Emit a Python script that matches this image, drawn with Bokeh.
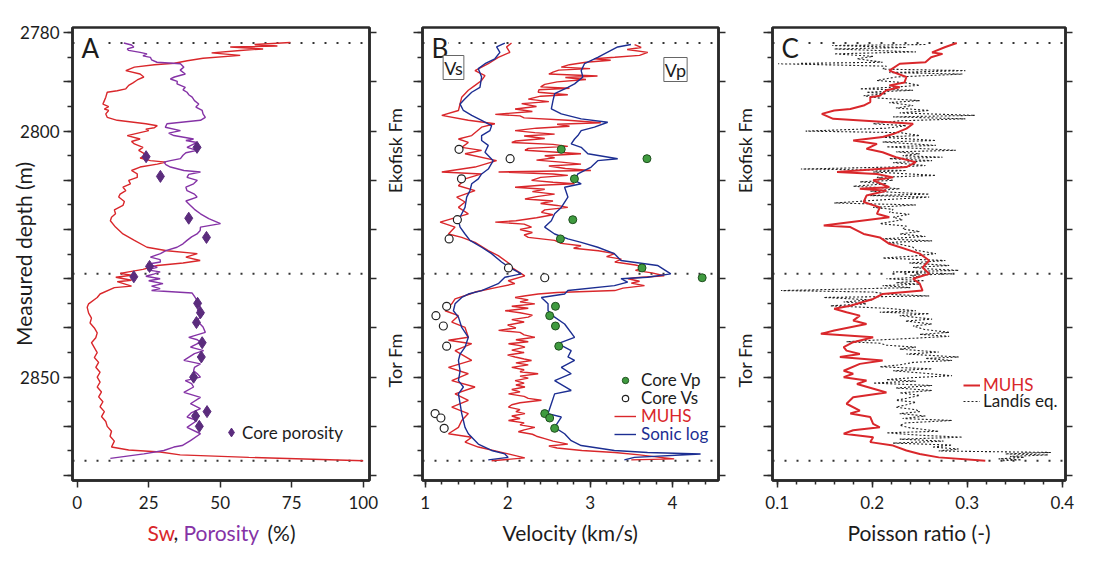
from bokeh.plotting import figure
from bokeh.layouts import row, column
from bokeh.models import (Range1d, FixedTicker, Span, Label, Legend, LegendItem,
                          LinearAxis, CustomJSTickFormatter)
from bokeh.embed import file_html
from bokeh.resources import INLINE

# ---------------- data (depth m, value) ----------------
SW_LOG = [
    (2782.0, 74.5), (2782.4, 62), (2782.7, 70), (2782.9, 53.5), (2783.3, 65), (2783.6, 57), (2784.1, 47),
    (2784.6, 57), (2785.2, 44), (2785.7, 38.5), (2786.2, 34), (2786.5, 27), (2787.0, 20), (2787.7, 17),
    (2788.4, 22), (2789.0, 23.3), (2789.6, 21), (2790.2, 19.5), (2790.7, 18), (2791.4, 17), (2791.8, 14),
    (2792.1, 10.5), (2793.1, 10), (2793.8, 9.5), (2794.5, 9), (2795.0, 11), (2795.5, 9.5), (2795.8, 11),
    (2796.5, 10), (2797.2, 10.5), (2797.8, 14), (2798.5, 24), (2798.9, 28), (2799.3, 27), (2799.6, 24),
    (2799.9, 25), (2800.3, 22), (2800.9, 17.5), (2801.6, 22), (2802.1, 19), (2802.6, 20), (2803.3, 23),
    (2803.9, 21.5), (2804.4, 23), (2804.9, 24), (2805.5, 22), (2806.0, 25.6), (2806.3, 31), (2806.7, 28),
    (2807.3, 22), (2808.0, 19), (2808.7, 21), (2809.4, 21), (2810.0, 18), (2810.7, 18.6), (2811.4, 16),
    (2812.1, 17), (2812.8, 15), (2813.4, 14.5), (2814.3, 16.5), (2815.1, 16), (2816.0, 13), (2816.8, 13.4),
    (2817.5, 12), (2818.2, 11.6), (2819.5, 13.4), (2820.9, 16), (2822.2, 20), (2823.6, 24.4), (2824.3, 31.4),
    (2824.9, 42), (2825.6, 38), (2826.3, 43), (2826.8, 37), (2827.3, 28), (2828.1, 23), (2828.9, 15),
    (2829.3, 19), (2829.7, 13.5), (2830.3, 19), (2830.6, 14), (2831.5, 19), (2831.8, 13), (2833.1, 8),
    (2833.8, 7), (2835.1, 4), (2835.8, 3.5), (2837.0, 4), (2838.0, 5), (2839.0, 4.5), (2840.0, 6),
    (2841.0, 7), (2842.0, 6.5), (2843.0, 5), (2844.0, 6), (2845.0, 7), (2846.0, 6), (2847.0, 7.5),
    (2848.0, 6.5), (2849.0, 8), (2850.0, 7), (2851.0, 8), (2852.0, 7), (2853.0, 8.5), (2854.0, 7.5),
    (2855.0, 9), (2856.0, 8), (2857.0, 9.5), (2858.0, 8.5), (2859.0, 10), (2860.0, 10.5), (2861.0, 12),
    (2862.0, 11.5), (2863.0, 13), (2864.2, 12), (2864.8, 18), (2865.2, 29), (2865.8, 36), (2866.3, 60),
    (2867.0, 100),
]

PORO_LOG = [
    (2782.1, 16.3), (2782.5, 19), (2782.9, 19.8), (2783.3, 17.5), (2783.6, 18), (2784.0, 22), (2784.3, 24.4),
    (2784.7, 23), (2785.0, 25.6), (2785.5, 26), (2786.0, 27.9), (2786.3, 36.1), (2787.0, 37.3), (2787.6, 36),
    (2788.4, 37.8), (2789.0, 34), (2789.4, 32.6), (2789.9, 35), (2790.4, 34.9), (2791.1, 37.8), (2791.6, 37),
    (2792.1, 38.4), (2792.6, 39), (2793.1, 40.2), (2793.8, 41), (2794.5, 42.5), (2795.1, 41.5), (2795.8, 43.7),
    (2796.5, 44), (2797.2, 44.8), (2797.8, 43.1), (2798.5, 31.4), (2799.2, 30.8), (2799.9, 36.1), (2800.4, 32),
    (2800.9, 33.8), (2801.6, 40.7), (2801.9, 38), (2802.3, 41.9), (2803.3, 38.4), (2803.9, 41.9), (2804.4, 38),
    (2804.9, 37), (2805.6, 36.1), (2806.0, 32.6), (2806.3, 30.3), (2806.8, 31), (2807.3, 32.6), (2808.0, 37.3),
    (2808.3, 43.1), (2808.8, 39), (2809.4, 38.4), (2810.0, 42), (2810.7, 40.7), (2811.4, 38), (2812.1, 38.4),
    (2812.8, 41), (2813.4, 41.9), (2814.2, 38), (2815.1, 39.6), (2815.9, 41), (2816.8, 43.1), (2817.8, 46),
    (2818.8, 50.1), (2819.5, 43.1), (2820.2, 43), (2820.9, 41.9), (2821.5, 40), (2822.2, 38.4), (2822.9, 37),
    (2823.6, 34.9), (2824.3, 31), (2824.9, 29.1), (2825.6, 25.6), (2826.1, 29), (2826.6, 29.1), (2827.0, 25),
    (2827.7, 28), (2828.2, 24.5), (2828.6, 29), (2829.0, 27), (2829.5, 24), (2830.0, 29), (2830.4, 25),
    (2831.0, 30), (2831.5, 26), (2832.0, 29), (2832.4, 26), (2832.9, 40.2), (2833.6, 41), (2834.4, 41.9),
    (2835.1, 42), (2835.8, 43.1), (2836.4, 42), (2837.1, 44.2), (2837.8, 43), (2838.5, 41.9), (2839.2, 43),
    (2839.8, 44), (2840.9, 44.8), (2841.9, 39), (2842.4, 42), (2842.9, 43.1), (2843.9, 39.6), (2844.6, 44.2),
    (2845.2, 41), (2846.6, 37.3), (2847.3, 43.1), (2848.0, 41), (2848.7, 40.7), (2849.3, 42), (2850.0, 43.1),
    (2850.7, 37.8), (2851.3, 40), (2852.0, 40.7), (2853.1, 37.3), (2854.1, 43.1), (2855.4, 39.6), (2856.4, 43.1),
    (2857.2, 40), (2858.1, 38.4), (2858.8, 41.9), (2860.2, 38.4), (2861.5, 43.1), (2862.9, 39.6), (2863.9, 36.7),
    (2864.2, 33.8), (2864.9, 30.3), (2865.6, 23.3), (2866.5, 11.6),
]

CORE_PHI_DEPTH = [2803.3, 2805.2, 2809.2, 2817.7, 2821.6, 2827.5, 2829.6, 2835.0,
                  2836.9, 2838.9, 2843.0, 2845.9, 2850.0, 2857.0, 2857.9, 2860.0]
CORE_PHI = [41.9, 24.1, 29.1, 39.0, 45.2, 25.3, 19.8, 42.1,
            43.1, 41.7, 43.7, 43.4, 40.7, 45.4, 41.4, 42.7]

VS_SONIC = [
    (2782.1, 1.966), (2782.9, 1.866), (2784.0, 1.906), (2785.3, 1.845), (2786.3, 1.725), (2787.3, 1.644),
    (2789.0, 1.684), (2791.1, 1.664), (2792.1, 1.564), (2793.4, 1.483), (2794.5, 1.423), (2795.8, 1.463),
    (2796.8, 1.564), (2797.8, 1.684), (2798.9, 1.805), (2799.9, 1.785), (2800.9, 1.684), (2801.9, 1.684),
    (2802.9, 1.765), (2804.3, 1.725), (2806.0, 1.825), (2807.7, 1.765), (2808.7, 1.684), (2809.7, 1.644),
    (2810.7, 1.564), (2812.1, 1.543), (2813.4, 1.503), (2815.5, 1.483), (2816.8, 1.443), (2818.2, 1.403),
    (2819.5, 1.423), (2820.9, 1.483), (2822.2, 1.543), (2823.6, 1.684), (2824.9, 1.805), (2826.6, 1.926),
    (2827.7, 2.020), (2829.0, 2.167), (2829.7, 1.966), (2831.0, 1.886), (2832.4, 1.684), (2833.1, 1.523),
    (2833.8, 1.443), (2835.1, 1.362), (2836.5, 1.342), (2837.8, 1.403), (2839.9, 1.443), (2841.9, 1.523),
    (2843.9, 1.483), (2845.3, 1.423), (2846.6, 1.403), (2848.7, 1.423), (2850.7, 1.403), (2852.0, 1.463),
    (2853.4, 1.403), (2855.4, 1.423), (2857.4, 1.443), (2858.8, 1.463), (2860.2, 1.483), (2861.5, 1.523),
    (2863.6, 1.644), (2864.9, 1.805), (2865.6, 1.966), (2866.3, 2.006), (2866.8, 1.765),
]

VS_MUHS = [
    (2782.1, 2.047), (2782.9, 1.986), (2784.0, 2.027), (2785.0, 1.886), (2786.3, 1.765), (2787.7, 1.604),
    (2788.7, 1.725), (2789.7, 1.684), (2790.7, 1.604), (2791.7, 1.523), (2793.1, 1.443), (2795.8, 1.403),
    (2796.8, 1.201), (2797.8, 1.523), (2798.5, 1.845), (2799.2, 1.684), (2800.9, 1.564), (2801.6, 1.403),
    (2802.3, 1.523), (2803.3, 1.443), (2803.9, 1.684), (2804.6, 1.483), (2806.0, 1.866), (2807.3, 1.604),
    (2808.3, 1.201), (2808.7, 1.684), (2809.7, 1.483), (2811.1, 1.403), (2812.1, 1.604), (2813.4, 1.382),
    (2814.4, 1.483), (2815.5, 1.403), (2816.8, 1.523), (2818.5, 1.181), (2819.5, 1.362), (2820.9, 1.282),
    (2821.6, 1.443), (2822.6, 1.604), (2824.3, 1.765), (2825.3, 1.886), (2827.0, 2.027), (2827.7, 2.047),
    (2829.4, 2.208), (2830.4, 2.006), (2831.0, 2.087), (2831.7, 1.886), (2832.7, 1.604), (2833.1, 1.543),
    (2834.1, 1.362), (2835.1, 1.322), (2836.5, 1.242), (2837.5, 1.403), (2838.8, 1.322), (2839.9, 1.483),
    (2841.9, 1.523), (2842.5, 1.282), (2843.2, 1.564), (2844.6, 1.362), (2846.6, 1.564), (2848.0, 1.282),
    (2849.3, 1.523), (2850.7, 1.322), (2852.0, 1.604), (2853.4, 1.362), (2854.7, 1.523), (2856.1, 1.322),
    (2857.4, 1.523), (2858.8, 1.443), (2860.2, 1.403), (2861.5, 1.282), (2862.2, 1.564), (2863.2, 1.483),
    (2864.2, 1.644), (2865.6, 2.006), (2866.4, 2.208), (2867.0, 1.805),
]

VP_SONIC = [
    (2782.4, 3.496), (2782.9, 3.335), (2783.6, 3.254), (2785.0, 3.093), (2786.3, 2.932), (2787.7, 2.892),
    (2789.0, 2.912), (2790.4, 2.812), (2791.1, 2.731), (2792.4, 2.570), (2793.8, 2.550), (2795.5, 2.530),
    (2796.5, 2.651), (2797.5, 2.892), (2798.2, 3.214), (2799.2, 3.053), (2799.9, 2.892), (2800.9, 2.852),
    (2801.6, 2.812), (2802.6, 2.771), (2803.3, 2.892), (2804.6, 2.973), (2805.6, 3.335), (2806.0, 3.093),
    (2807.3, 3.013), (2808.7, 2.852), (2810.0, 2.812), (2810.7, 2.892), (2811.4, 2.691), (2813.4, 2.731),
    (2815.5, 2.651), (2816.8, 2.570), (2818.2, 2.530), (2819.5, 2.449), (2820.9, 2.570), (2821.9, 2.731),
    (2822.6, 2.892), (2823.6, 3.093), (2824.9, 3.295), (2826.3, 3.375), (2827.3, 3.818), (2829.0, 3.979),
    (2829.7, 3.697), (2830.0, 3.375), (2830.7, 3.456), (2831.4, 3.295), (2832.4, 2.731), (2833.1, 2.691),
    (2833.8, 2.409), (2835.1, 2.490), (2836.5, 2.490), (2837.8, 2.570), (2839.2, 2.691), (2841.9, 2.812),
    (2843.2, 2.610), (2844.6, 2.771), (2845.9, 2.731), (2846.6, 2.812), (2848.0, 2.651), (2849.3, 2.771),
    (2850.7, 2.570), (2852.7, 2.771), (2853.4, 2.570), (2855.4, 2.530), (2857.4, 2.490), (2858.1, 2.651),
    (2860.2, 2.570), (2861.5, 2.691), (2862.9, 2.771), (2863.9, 2.892), (2864.9, 3.295), (2865.3, 3.697),
    (2865.6, 4.341), (2866.3, 3.537), (2866.8, 3.416),
]

VP_MUHS = [
    (2782.4, 3.54), (2783.0, 3.62), (2783.4, 3.45), (2784.0, 3.70), (2784.6, 3.60), (2785.0, 3.30),
    (2785.3, 3.05), (2785.6, 3.25), (2786.0, 2.95), (2786.5, 2.75), (2787.0, 2.65), (2787.3, 3.00),
    (2787.6, 2.62), (2788.0, 2.55), (2788.4, 2.50), (2788.8, 3.09), (2789.1, 2.70), (2789.5, 2.95),
    (2790.0, 2.60), (2790.5, 2.45), (2791.0, 2.40), (2791.3, 2.75), (2791.6, 2.38), (2792.1, 2.37),
    (2792.6, 2.73), (2792.9, 2.40), (2793.5, 2.25), (2794.0, 2.50), (2794.4, 2.17), (2795.0, 2.35),
    (2795.5, 2.09), (2796.0, 2.30), (2796.6, 1.85), (2796.9, 2.15), (2797.3, 2.20), (2797.8, 2.73),
    (2798.3, 3.13), (2798.6, 2.60), (2799.0, 2.75), (2799.4, 2.35), (2799.9, 2.09), (2800.3, 2.33),
    (2800.6, 2.57), (2801.0, 2.20), (2801.5, 2.45), (2802.0, 2.10), (2802.3, 2.05), (2802.7, 2.55),
    (2803.1, 2.73), (2803.5, 2.25), (2803.9, 2.21), (2804.3, 2.60), (2804.6, 2.89), (2805.0, 2.45),
    (2805.4, 2.57), (2805.9, 2.35), (2806.3, 2.65), (2806.7, 2.89), (2807.1, 2.50), (2807.6, 2.70),
    (2808.0, 3.01), (2808.3, 1.89), (2808.7, 2.55), (2809.0, 2.73), (2809.4, 2.40), (2810.0, 2.29),
    (2810.4, 2.55), (2810.7, 2.81), (2811.0, 2.40), (2811.4, 2.09), (2811.8, 2.45), (2812.3, 2.30),
    (2812.8, 2.57), (2813.3, 2.35), (2813.8, 2.21), (2814.2, 2.55), (2814.7, 2.40), (2815.1, 2.60),
    (2815.5, 2.73), (2816.0, 2.45), (2816.5, 2.41), (2817.0, 2.55), (2817.6, 2.35), (2818.2, 2.10),
    (2818.5, 1.85), (2818.9, 2.20), (2819.5, 2.29), (2820.0, 2.15), (2820.6, 2.30), (2821.1, 2.20),
    (2821.6, 2.25), (2822.2, 2.57), (2822.8, 2.65), (2823.3, 2.89), (2823.8, 2.80), (2824.3, 3.10),
    (2824.9, 3.30), (2825.5, 3.20), (2826.0, 3.38), (2826.6, 3.30), (2827.2, 3.55), (2827.7, 3.66),
    (2828.3, 3.55), (2828.8, 3.75), (2829.4, 3.90), (2829.8, 3.55), (2830.0, 3.46), (2830.5, 3.60),
    (2830.9, 3.50), (2831.4, 3.66), (2831.9, 3.40), (2832.4, 3.30), (2832.8, 2.60), (2833.1, 2.37),
    (2833.5, 2.20), (2833.8, 2.09), (2834.3, 2.25), (2834.7, 2.15), (2835.1, 2.33), (2835.6, 2.05),
    (2836.0, 2.25), (2836.5, 1.97), (2836.9, 2.15), (2837.4, 2.30), (2837.8, 2.25), (2838.3, 2.05),
    (2838.8, 2.20), (2839.4, 2.00), (2840.0, 2.10), (2840.5, 1.89), (2840.9, 2.15), (2841.4, 2.20),
    (2841.9, 2.33), (2842.4, 2.10), (2842.8, 2.25), (2843.2, 2.01), (2843.6, 2.15), (2843.9, 2.21),
    (2844.5, 2.05), (2845.0, 2.20), (2845.5, 2.00), (2845.9, 2.09), (2846.3, 2.20), (2846.6, 2.29),
    (2847.1, 2.10), (2847.5, 2.25), (2848.0, 2.05), (2848.5, 2.20), (2848.9, 2.15), (2849.3, 2.37),
    (2849.8, 2.15), (2850.2, 2.25), (2850.7, 2.09), (2851.2, 2.20), (2851.6, 2.10), (2852.0, 2.21),
    (2852.5, 2.05), (2853.0, 2.15), (2853.4, 2.01), (2853.9, 2.20), (2854.3, 2.25), (2854.7, 2.41),
    (2855.2, 2.15), (2855.6, 2.05), (2856.1, 2.01), (2856.6, 2.15), (2857.0, 2.10), (2857.4, 2.21),
    (2857.9, 2.05), (2858.4, 2.15), (2858.8, 2.01), (2859.3, 2.20), (2859.7, 2.15), (2860.2, 2.33),
    (2860.7, 2.20), (2861.1, 2.13), (2861.6, 2.30), (2862.0, 2.35), (2862.5, 2.45), (2863.0, 2.55),
    (2863.6, 2.73), (2864.0, 2.50), (2864.4, 2.60), (2864.9, 2.90), (2865.3, 3.30), (2865.8, 3.60),
    (2866.3, 3.85), (2866.6, 4.02), (2866.8, 3.50),
]

CORE_DEPTH = [2803.7, 2805.6, 2809.7, 2818.0, 2821.9, 2827.8, 2829.8,
              2835.6, 2837.5, 2839.6, 2843.7, 2857.4, 2858.3, 2860.4]
CORE_VP = [2.65, 3.69, 2.81, 2.79, 2.64, 3.63, 4.36, 2.58, 2.51, 2.58, 2.62, 2.45, 2.51, 2.57]
CORE_VS = [1.41, 2.03, 1.44, 1.39, 1.29, 2.01, 2.45, 1.26, 1.13, 1.22, 1.26, 1.12, 1.19, 1.23]

PR_MUHS = [
    (2782.1, 0.289), (2782.9, 0.277), (2784.0, 0.263), (2784.3, 0.274), (2785.0, 0.262), (2786.0, 0.256),
    (2786.3, 0.229), (2787.7, 0.218), (2789.0, 0.236), (2790.1, 0.234), (2790.7, 0.218), (2791.1, 0.229),
    (2791.7, 0.215), (2792.8, 0.208), (2793.1, 0.198), (2794.1, 0.198), (2794.8, 0.191), (2795.5, 0.177),
    (2795.8, 0.160), (2796.5, 0.147), (2797.5, 0.159), (2798.5, 0.243), (2799.5, 0.236), (2800.6, 0.222),
    (2801.2, 0.211), (2801.9, 0.180), (2802.6, 0.205), (2803.6, 0.194), (2804.3, 0.211), (2805.3, 0.225),
    (2806.3, 0.246), (2807.3, 0.236), (2808.3, 0.163), (2808.7, 0.205), (2809.4, 0.222), (2810.0, 0.201),
    (2811.4, 0.218), (2811.7, 0.187), (2812.1, 0.215), (2813.1, 0.194), (2814.4, 0.191), (2815.5, 0.208),
    (2816.8, 0.205), (2817.5, 0.218), (2819.2, 0.149), (2819.5, 0.177), (2820.9, 0.191), (2821.6, 0.208),
    (2822.9, 0.218), (2824.9, 0.250), (2826.3, 0.260), (2827.7, 0.253), (2829.0, 0.260), (2830.0, 0.243),
    (2831.0, 0.250), (2832.4, 0.253), (2833.1, 0.211), (2834.1, 0.201), (2835.5, 0.177), (2836.1, 0.160),
    (2836.8, 0.173), (2837.5, 0.187), (2838.5, 0.180), (2839.2, 0.194), (2840.5, 0.160), (2841.2, 0.146),
    (2841.5, 0.170), (2841.9, 0.201), (2842.9, 0.180), (2843.9, 0.170), (2844.6, 0.173), (2845.3, 0.187),
    (2845.9, 0.166), (2846.6, 0.211), (2847.3, 0.187), (2848.7, 0.170), (2849.3, 0.180), (2850.0, 0.170),
    (2850.7, 0.194), (2851.4, 0.184), (2853.1, 0.215), (2854.1, 0.180), (2855.4, 0.173), (2856.8, 0.187),
    (2857.4, 0.177), (2858.1, 0.198), (2859.5, 0.201), (2860.2, 0.208), (2860.8, 0.180), (2861.5, 0.170),
    (2862.2, 0.201), (2863.2, 0.198), (2863.9, 0.222), (2864.9, 0.236), (2865.6, 0.250), (2866.3, 0.270),
    (2867.0, 0.319),
]

PR_LANDIS = [
    (2782.4, 0.256), (2782.6, 0.158), (2783.0, 0.236), (2783.3, 0.160), (2783.9, 0.246), (2784.3, 0.160),
    (2784.8, 0.201), (2785.3, 0.184), (2786.0, 0.211), (2786.3, 0.101), (2786.8, 0.215), (2787.4, 0.211),
    (2787.7, 0.298), (2788.1, 0.218), (2788.4, 0.295), (2789.0, 0.225), (2789.7, 0.205), (2790.2, 0.236),
    (2790.7, 0.250), (2791.1, 0.218), (2791.4, 0.187), (2791.7, 0.243), (2792.1, 0.194), (2792.4, 0.215),
    (2792.8, 0.191), (2793.3, 0.208), (2793.8, 0.250), (2794.2, 0.218), (2794.8, 0.243), (2795.3, 0.225),
    (2795.8, 0.260), (2796.3, 0.229), (2796.8, 0.308), (2797.1, 0.222), (2797.5, 0.298), (2797.9, 0.229),
    (2798.5, 0.201), (2798.9, 0.236), (2799.4, 0.215), (2800.0, 0.130), (2800.3, 0.229), (2800.9, 0.250),
    (2801.2, 0.208), (2801.9, 0.267), (2802.2, 0.211), (2802.9, 0.267), (2803.2, 0.215), (2803.9, 0.288),
    (2804.2, 0.225), (2804.6, 0.250), (2805.0, 0.232), (2805.3, 0.274), (2805.6, 0.218), (2806.0, 0.263),
    (2806.4, 0.222), (2807.0, 0.256), (2807.3, 0.222), (2807.7, 0.125), (2808.0, 0.236), (2808.3, 0.201),
    (2808.7, 0.239), (2809.0, 0.267), (2809.4, 0.205), (2810.0, 0.222), (2810.3, 0.187), (2810.7, 0.215),
    (2811.2, 0.180), (2811.7, 0.229), (2812.2, 0.198), (2812.8, 0.260), (2813.1, 0.198), (2813.4, 0.260),
    (2814.0, 0.208), (2814.6, 0.160), (2815.0, 0.246), (2815.5, 0.201), (2815.9, 0.222), (2816.5, 0.218),
    (2816.9, 0.239), (2817.5, 0.222), (2818.0, 0.232), (2818.8, 0.208), (2819.3, 0.236), (2819.9, 0.232),
    (2820.4, 0.250), (2820.9, 0.229), (2821.4, 0.256), (2821.9, 0.211), (2822.3, 0.263), (2822.6, 0.218),
    (2823.1, 0.232), (2823.6, 0.243), (2824.2, 0.246), (2824.9, 0.267), (2825.4, 0.243), (2825.8, 0.211),
    (2826.3, 0.277), (2826.8, 0.239), (2827.3, 0.281), (2827.7, 0.243), (2828.0, 0.260), (2828.3, 0.291),
    (2828.6, 0.222), (2829.0, 0.284), (2829.3, 0.240), (2829.7, 0.250), (2830.0, 0.215), (2830.4, 0.255),
    (2830.8, 0.225), (2831.1, 0.250), (2831.4, 0.211), (2831.8, 0.240), (2832.4, 0.104), (2832.7, 0.201),
    (2833.2, 0.220), (2833.5, 0.260), (2833.8, 0.149), (2834.3, 0.200), (2834.7, 0.170), (2835.1, 0.194),
    (2835.5, 0.156), (2836.0, 0.215), (2836.5, 0.246), (2836.8, 0.208), (2837.1, 0.260), (2837.5, 0.229),
    (2838.2, 0.263), (2838.6, 0.235), (2839.2, 0.263), (2839.6, 0.243), (2840.3, 0.255), (2840.9, 0.281),
    (2841.3, 0.250), (2841.7, 0.281), (2842.1, 0.243), (2842.5, 0.200), (2842.8, 0.173), (2843.1, 0.208),
    (2843.5, 0.215), (2843.9, 0.246), (2844.3, 0.229), (2844.9, 0.270), (2845.3, 0.236), (2845.9, 0.291),
    (2846.2, 0.256), (2846.6, 0.284), (2847.0, 0.243), (2847.5, 0.229), (2847.9, 0.208), (2848.3, 0.263),
    (2848.7, 0.222), (2849.2, 0.255), (2849.7, 0.284), (2850.1, 0.243), (2850.5, 0.215), (2850.8, 0.246),
    (2851.2, 0.201), (2851.7, 0.263), (2852.2, 0.225), (2852.7, 0.263), (2853.2, 0.229), (2853.7, 0.250),
    (2854.3, 0.236), (2854.7, 0.225), (2855.1, 0.246), (2855.6, 0.236), (2856.1, 0.225), (2856.6, 0.246),
    (2857.0, 0.250), (2857.4, 0.229), (2857.9, 0.256), (2858.4, 0.232), (2858.8, 0.284), (2859.3, 0.235),
    (2859.8, 0.229), (2860.3, 0.240), (2861.0, 0.270), (2861.3, 0.215), (2861.8, 0.250), (2862.2, 0.295),
    (2862.6, 0.229), (2863.0, 0.275), (2863.4, 0.222), (2863.8, 0.284), (2864.2, 0.263), (2864.6, 0.291),
    (2865.0, 0.270), (2865.3, 0.388), (2865.6, 0.340), (2865.8, 0.385), (2866.1, 0.345), (2866.3, 0.360),
    (2866.6, 0.333), (2866.8, 0.357), (2867.0, 0.336),
]

FORMATION_TOPS = [2782.1, 2829.0, 2867.0]
FORMATION_NAMES = ["Ekofisk Fm", "Tor Fm"]
FORMATION_MID = [2804.0, 2846.6]

Y_MAJOR = [2780, 2790, 2800, 2810, 2820, 2830, 2840, 2850, 2860, 2870]
Y_MINOR = [2780, 2785, 2790, 2795, 2800, 2805, 2810, 2815, 2820, 2825, 2830, 2835,
           2840, 2845, 2850, 2855, 2860, 2865, 2870]
Y_LABELLED = [2780, 2800, 2850]

XA_TICKS = [0, 25, 50, 75, 100]
XB_TICKS = [1, 2, 3, 4]
XB_MINOR = [1.0, 1.2, 1.4, 1.6, 1.8, 2.0, 2.2, 2.4, 2.6, 2.8, 3.0, 3.2, 3.4, 3.6, 3.8, 4.0, 4.2, 4.4]
XC_TICKS = [0.1, 0.2, 0.3, 0.4]
XC_MINOR = [0.10, 0.12, 0.14, 0.16, 0.18, 0.20, 0.22, 0.24, 0.26, 0.28, 0.30,
            0.32, 0.34, 0.36, 0.38, 0.40]

# ---------------- style ----------------
FONT = "Lato"
INK = "#1c1c1c"
FRAME = "#2a2a2a"
RED = "#d9272b"
PURPLE = "#8533a6"
BLUE = "#1c2e92"
GREEN = "#3f9b3f"
DIAMOND = "#5b2c7d"

H = 554
TOP = 27
FRAME_H = 453
Y_RANGE = (2871.0, 2778.94)


def split(pairs):
    return [p[0] for p in pairs], [p[1] for p in pairs]


def style_axis(ax, tick_out, minor_out, label_size="17px"):
    ax.axis_line_color = FRAME
    ax.axis_line_width = 2.5
    ax.major_tick_line_color = FRAME
    ax.minor_tick_line_color = FRAME
    ax.major_tick_line_width = 1.5
    ax.minor_tick_line_width = 1.5
    ax.major_tick_out = tick_out
    ax.major_tick_in = 0
    ax.minor_tick_out = minor_out
    ax.minor_tick_in = 0
    ax.major_label_text_font = FONT
    ax.major_label_text_font_size = label_size
    ax.major_label_text_color = INK
    ax.axis_label_text_font = FONT
    ax.axis_label_text_font_size = "21px"
    ax.axis_label_text_font_style = "normal"
    ax.axis_label_text_color = INK


def panel(width, height, bl, br, xr, xticks, xminor, xtitle, letter, ylabels):
    p = figure(width=width, height=height, x_range=Range1d(*xr), y_range=Range1d(*Y_RANGE),
               output_backend="svg", toolbar_location=None,
               min_border_left=bl, min_border_right=br,
               min_border_top=TOP, min_border_bottom=height - TOP - FRAME_H)
    p.grid.visible = False
    p.outline_line_color = FRAME
    p.outline_line_width = 2.5
    p.outline_line_alpha = 1.0
    p.background_fill_color = "white"
    p.border_fill_color = "white"

    xa = p.xaxis[0]
    xa.ticker = FixedTicker(ticks=xticks, minor_ticks=xminor)
    style_axis(xa, 7, 4)
    xa.major_label_standoff = 8
    if xtitle:
        xa.axis_label = xtitle
        xa.axis_label_standoff = 8

    ya = p.yaxis[0]
    ya.ticker = FixedTicker(ticks=Y_MAJOR, minor_ticks=Y_MINOR)
    style_axis(ya, 9, 5)
    ya.major_label_standoff = 4
    if ylabels:
        ya.formatter = CustomJSTickFormatter(args=dict(shown=Y_LABELLED),
                                             code="return shown.includes(tick) ? String(tick) : ''")
    else:
        ya.formatter = CustomJSTickFormatter(code="return ''")
        ya.major_label_standoff = 0
        fa = LinearAxis(ticker=FixedTicker(ticks=FORMATION_MID, minor_ticks=[]),
                        formatter=CustomJSTickFormatter(
                            args=dict(depths=FORMATION_MID, names=FORMATION_NAMES),
                            code="const i = depths.indexOf(tick); return i >= 0 ? names[i] : '';"))
        fa.axis_line_color = None
        fa.major_tick_line_color = None
        fa.minor_tick_line_color = None
        fa.major_tick_out = 0
        fa.major_tick_in = 0
        fa.minor_tick_out = 0
        fa.minor_tick_in = 0
        fa.major_label_orientation = "vertical"
        fa.major_label_standoff = 7
        fa.major_label_text_font = FONT
        fa.major_label_text_font_size = "18px"
        fa.major_label_text_color = INK
        p.add_layout(fa, "left")

    ra = LinearAxis(ticker=FixedTicker(ticks=Y_MAJOR, minor_ticks=[]),
                    formatter=CustomJSTickFormatter(code="return ''"))
    style_axis(ra, 7, 0)
    ra.major_label_standoff = 0
    p.add_layout(ra, "right")

    for d in FORMATION_TOPS:
        p.add_layout(Span(location=d, dimension="width", line_color="#333333",
                          line_width=2, line_dash="2 10", level="underlay"))

    p.add_layout(Label(x=9, y=433, x_units="screen", y_units="screen", text=letter,
                       text_font=FONT, text_font_size="26px", text_color=INK,
                       text_baseline="middle", background_fill_color="white"))
    return p


def legend(p, item, x, y, color, glyph_w, glyph_h=16, standoff=5):
    lg = Legend(items=[item], location=(x, y), orientation="vertical",
                glyph_width=glyph_w, glyph_height=glyph_h, label_height=16,
                label_standoff=standoff, spacing=0, padding=0, margin=0,
                label_text_font=FONT, label_text_font_size="17px",
                label_text_color=color, border_line_alpha=0, background_fill_alpha=0)
    p.add_layout(lg)


# ---------------- Panel A ----------------
pa = panel(381, 516, 72, 12, (-1.64, 102.2), XA_TICKS, [], "", "A", True)
pa.yaxis[0].axis_label = "Measured depth (m)"
pa.yaxis[0].axis_label_text_font_size = "21px"
pa.yaxis[0].axis_label_standoff = -19
d, v = split(SW_LOG)
pa.line(v, d, line_color=RED, line_width=1.4)
d, v = split(PORO_LOG)
pa.line(v, d, line_color=PURPLE, line_width=1.4)
r_phi = pa.scatter(CORE_PHI, CORE_PHI_DEPTH, marker="diamond", size=12,
                   fill_color=DIAMOND, line_color=DIAMOND)
legend(pa, LegendItem(label="Core porosity", renderers=[r_phi]), 148, 37, INK, 22, 22, 0)

# title strip under panel A (multi-coloured axis title); its frame aligns with panel A's frame
pt = figure(width=381, height=H - 516, output_backend="svg", toolbar_location=None,
            x_axis_location=None, y_axis_location=None, x_range=Range1d(0, 1), y_range=Range1d(0, 1),
            min_border_left=0, min_border_right=0, min_border_top=0, min_border_bottom=0)
pt.grid.visible = False
pt.outline_line_color = None
for txt, xs, col in [("Sw", 75, RED), (",", 101, INK), ("Porosity", 111, PURPLE), ("(%)", 195, INK)]:
    pt.add_layout(Label(x=xs, y=22, x_units="screen", y_units="screen", text=txt,
                        text_font=FONT, text_font_size="21px", text_color=col,
                        text_baseline="middle"))

# ---------------- Panel B ----------------
pb = panel(350, H, 39, 13, (0.967, 4.558), XB_TICKS, XB_MINOR, "Velocity (km/s)", "B", False)
d, v = split(VS_MUHS)
r_muhs = pb.line(v, d, line_color=RED, line_width=1.4)
d, v = split(VS_SONIC)
r_sonic = pb.line(v, d, line_color=BLUE, line_width=1.4)
d, v = split(VP_MUHS)
pb.line(v, d, line_color=RED, line_width=1.4)
d, v = split(VP_SONIC)
pb.line(v, d, line_color=BLUE, line_width=1.4)
r_cvp = pb.scatter(CORE_VP, CORE_DEPTH, marker="circle", size=8, fill_color=GREEN,
                   line_color="#1f4f1f", line_width=1)
r_cvs = pb.scatter(CORE_VS, CORE_DEPTH, marker="circle", size=8, fill_color="white",
                   line_color="#222222", line_width=1.2)
legend(pb, LegendItem(label="Core Vp", renderers=[r_cvp]), 192, 90, INK, 22)
legend(pb, LegendItem(label="Core Vs", renderers=[r_cvs]), 192, 72, INK, 22)
legend(pb, LegendItem(label="MUHS", renderers=[r_muhs]), 192, 54, RED, 22)
legend(pb, LegendItem(label="Sonic log", renderers=[r_sonic]), 192, 36, BLUE, 22)
for txt, xs, ys in [("Vs", 31, 413), ("Vp", 253, 411)]:
    pb.add_layout(Label(x=xs, y=ys, x_units="screen", y_units="screen", text=txt,
                        text_align="center", text_baseline="middle",
                        text_font=FONT, text_font_size="18px", text_color=INK,
                        border_line_color="#666666", border_line_width=1,
                        background_fill_color="white", padding=1))

# ---------------- Panel C ----------------
pc = panel(357, H, 37, 23, (0.0951, 0.4034), XC_TICKS, XC_MINOR, "Poisson ratio (-)", "C", False)
d, v = split(PR_LANDIS)
r_landis = pc.line(v, d, line_color="#222222", line_width=1.1, line_dash="2 2")
d, v = split(PR_MUHS)
r_pr = pc.line(v, d, line_color=RED, line_width=2)
legend(pc, LegendItem(label="MUHS", renderers=[r_pr]), 191, 85, RED, 17, 16, 3)
legend(pc, LegendItem(label="Landís eq.", renderers=[r_landis]), 191, 69, INK, 17, 16, 3)

layout = row(column(pa, pt), pb, pc)
open("out.html", "w").write(file_html(layout, INLINE))
